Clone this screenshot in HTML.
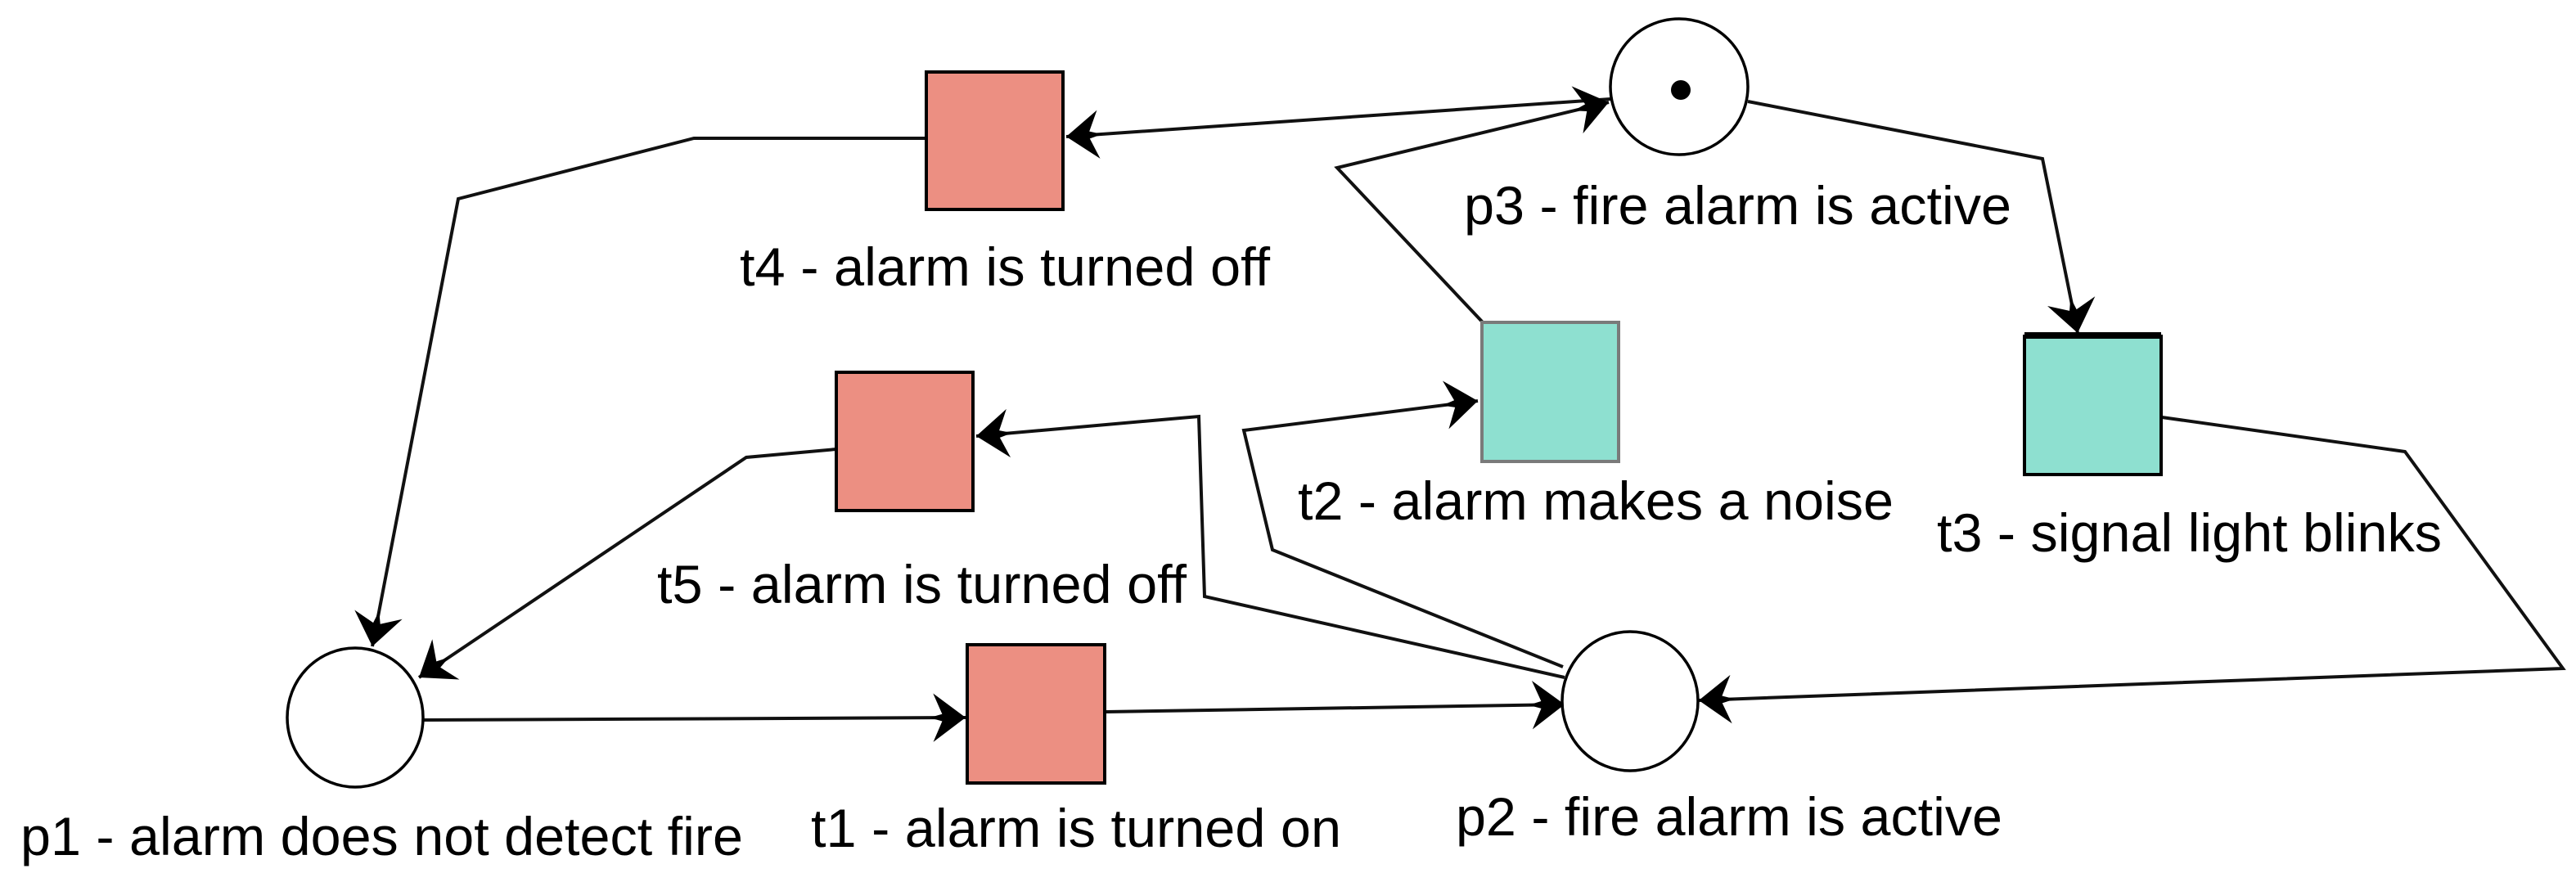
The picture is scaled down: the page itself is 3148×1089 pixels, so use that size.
<!DOCTYPE html>
<html><head><meta charset="utf-8"><style>
html,body{margin:0;padding:0;background:#fff;}
svg{display:block;}
text{font-family:"Liberation Sans",Arial,sans-serif;font-size:66px;fill:#000;}
</style></head><body>
<svg width="3148" height="1089" viewBox="0 0 3148 1089" xmlns="http://www.w3.org/2000/svg">
<defs>
<marker id="a" viewBox="0 0 40 60" refX="40" refY="30" markerWidth="46" markerHeight="66" markerUnits="userSpaceOnUse" orient="auto">
<path d="M40,30 L4,3 L14,26 L0,30 L14,34 L4,57 Z" fill="#000"/>
</marker>
</defs>
<g fill="none" stroke="#111" stroke-width="4" stroke-linejoin="miter">
<polyline points="1132,169 848,169 560,243 455,790" marker-end="url(#a)"/>
<polyline points="1968,121 1303,167" marker-end="url(#a)"/>
<polyline points="1812,394 1634,205 1966,125" marker-end="url(#a)"/>
<polyline points="1910,815 1555,672 1520,526 1806,490" marker-end="url(#a)"/>
<polyline points="1912,828 1472,729 1465,509 1193,533" marker-end="url(#a)"/>
<polyline points="1022,549 912,559 512,828" marker-end="url(#a)"/>
<polyline points="518,880 1180,877" marker-end="url(#a)"/>
<polyline points="1352,870 1912,861" marker-end="url(#a)"/>
<polyline points="2136,124 2496,194 2539,407" marker-end="url(#a)"/>
<polyline points="2642,510 2939,552 3132,817 2076,856" marker-end="url(#a)"/>
</g>
<g fill="#fff" stroke="#000" stroke-width="3.5">
<ellipse cx="2052" cy="106" rx="84" ry="83"/>
<ellipse cx="1992" cy="857" rx="83" ry="85"/>
<ellipse cx="434" cy="877" rx="83" ry="85"/>
</g>
<circle cx="2054" cy="110" r="12" fill="#000"/>
<g stroke="#000" stroke-width="4">
<rect x="1132" y="88" width="167" height="168" fill="#ec8f82"/>
<rect x="1022" y="455" width="167" height="169" fill="#ec8f82"/>
<rect x="1182" y="788" width="168" height="169" fill="#ec8f82"/>
<rect x="2474" y="411" width="167" height="169" fill="#8ee0d0"/>
</g>
<rect x="2474" y="406" width="167" height="8" fill="#000"/>
<rect x="1811" y="394" width="167" height="170" fill="#8ee0d0" stroke="#7a7a7a" stroke-width="4"/>
<text x="904" y="349" textLength="648" lengthAdjust="spacingAndGlyphs">t4 - alarm is turned off</text>
<text x="1789" y="274" textLength="669" lengthAdjust="spacingAndGlyphs">p3 - fire alarm is active</text>
<text x="1586" y="635" textLength="728" lengthAdjust="spacingAndGlyphs">t2 - alarm makes a noise</text>
<text x="2367" y="674" textLength="617" lengthAdjust="spacingAndGlyphs">t3 - signal light blinks</text>
<text x="803" y="737" textLength="647" lengthAdjust="spacingAndGlyphs">t5 - alarm is turned off</text>
<text x="25" y="1045" textLength="883" lengthAdjust="spacingAndGlyphs">p1 - alarm does not detect fire</text>
<text x="991" y="1035" textLength="648" lengthAdjust="spacingAndGlyphs">t1 - alarm is turned on</text>
<text x="1779" y="1021" textLength="668" lengthAdjust="spacingAndGlyphs">p2 - fire alarm is active</text>
</svg>
</body></html>
